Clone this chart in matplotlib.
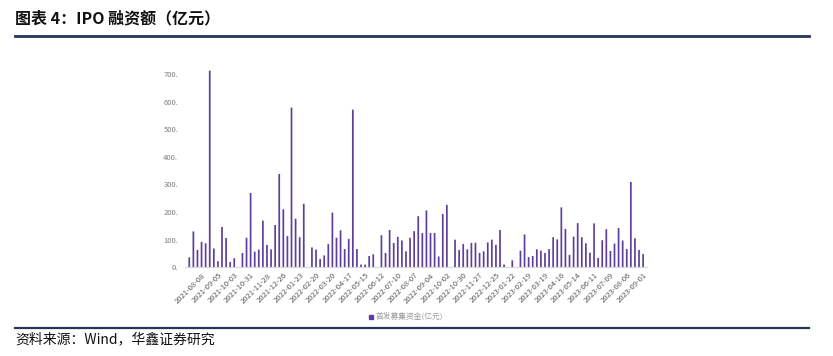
import matplotlib
matplotlib.use("Agg")
import matplotlib.pyplot as plt
from matplotlib.lines import Line2D
from matplotlib.patches import Rectangle

plt.rcParams['font.family'] = ['Noto Sans CJK SC', 'DejaVu Sans']

# ---- data ----
title = "图表 4：IPO 融资额（亿元）"
source = "资料来源：Wind，华鑫证券研究"
series_name = "首发募集资金(亿元)"

values = [36, 130, 63, 92, 87, 712, 68, 22, 146, 106, 19, 33, 0, 52, 107, 269,
          57, 64, 169, 81, 65, 153, 338, 210, 113, 578, 176, 109, 230, 0, 72, 64,
          30, 43, 84, 198, 107, 134, 66, 103, 571, 66, 10, 10, 41, 47, 0, 116,
          52, 135, 88, 110, 97, 58, 107, 131, 185, 124, 206, 124, 124, 39, 193, 226,
          0, 100, 63, 84, 65, 88, 89, 52, 58, 90, 100, 81, 135, 10, 0, 25,
          0, 60, 119, 37, 41, 65, 60, 52, 66, 109, 101, 217, 139, 45, 111, 160,
          109, 87, 53, 159, 34, 98, 138, 59, 86, 142, 97, 66, 309, 105, 63, 48]

tick_labels = ["2021-08-08", "2021-09-05", "2021-10-03", "2021-10-31", "2021-11-28",
               "2021-12-26", "2022-01-23", "2022-02-20", "2022-03-20", "2022-04-17",
               "2022-05-15", "2022-06-12", "2022-07-10", "2022-08-07", "2022-09-04",
               "2022-10-02", "2022-10-30", "2022-11-27", "2022-12-25", "2023-01-22",
               "2023-02-19", "2023-03-19", "2023-04-16", "2023-05-14", "2023-06-11",
               "2023-07-09", "2023-08-06", "2023-09-01"]
first_label_index = 3
label_step = 4
y_ticks = [0, 100, 200, 300, 400, 500, 600, 700]

# ---- figure ----
W, H = 833, 356
fig = plt.figure(figsize=(W / 100, H / 100), dpi=100)

ax = fig.add_axes([185.2 / W, 1 - 267.3 / H, 462 / W, 209.9 / H])
x = list(range(len(values)))
bars = ax.bar(x, values, width=0.42, color='#5c3f9c', zorder=2)
for b in bars:
    b.set_snap(False)
ax.set_xlim(-1, len(values))
ax.set_ylim(0, 760)

ax.set_yticks(y_ticks)
ax.set_yticklabels([f"{v}." for v in y_ticks], fontsize=5.5, color='#7f7f7f')
tick_pos = [first_label_index + label_step * i for i in range(len(tick_labels))]
ax.set_xticks(tick_pos)
ax.set_xticklabels(tick_labels, rotation=45, ha='right', va='top',
                   rotation_mode='anchor', fontsize=5.5, color='#595959')
ax.tick_params(axis='both', length=0)
ax.tick_params(axis='y', pad=5)
ax.tick_params(axis='x', pad=3)
for s in ['top', 'right', 'left']:
    ax.spines[s].set_visible(False)
ax.spines['bottom'].set_color('#d9d9d9')
ax.spines['bottom'].set_linewidth(0.8)

# legend
fig.patches.append(Rectangle((369 / W, 1 - 318.5 / H), 4 / W, 4 / H,
                             transform=fig.transFigure, color='#5c3f9c'))
fig.text(376 / W, 1 - 316.5 / H, series_name, fontsize=5.6, color='#9a9a9a',
         ha='left', va='center')

# title & lines
fig.text(15 / W, 1 - 18 / H, title, fontsize=11.5, fontweight='bold',
         color='#111111', ha='left', va='center')
fig.add_artist(Line2D([15 / W, 809 / W], [1 - 35.5 / H, 1 - 35.5 / H],
                      transform=fig.transFigure, color='#243558', lw=2.0))
fig.add_artist(Line2D([15 / W, 809 / W], [1 - 327.5 / H, 1 - 327.5 / H],
                      transform=fig.transFigure, color='#243558', lw=1.6))
fig.text(15 / W, 1 - 339.5 / H, source, fontsize=10, color='#111111',
         ha='left', va='center')

fig.savefig('out.png', dpi=100)
